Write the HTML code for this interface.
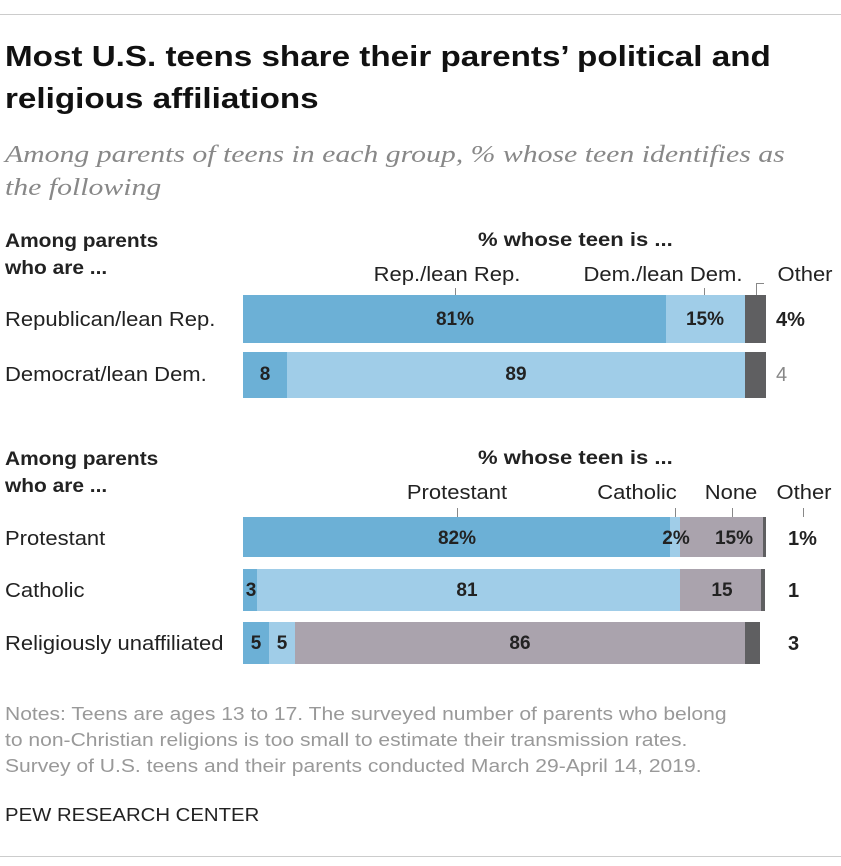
<!DOCTYPE html>
<html><head><meta charset="utf-8"><style>
body{margin:0;background:#fff;width:841px;height:866px;position:relative;font-family:"Liberation Sans",sans-serif;overflow:hidden}
.a{position:absolute;white-space:nowrap;transform-origin:0 0}
.r{position:absolute;height:1px;background:#ccc;left:0;width:841px}
.b{position:absolute}
.t{position:absolute;font-size:19px;font-weight:bold;color:#222;transform:translateX(-50%)}
.lab{font-size:20px;color:#222;transform:scaleX(1.1)}
.lg{position:absolute;white-space:nowrap;font-size:20px;color:#222;transform:translateX(-50%) scaleX(1.1)}
.tick{position:absolute;width:1px;background:#888}
.hd{font-size:19px;font-weight:bold;color:#222;line-height:27px;transform:scaleX(1.1)}
.pc{font-size:19px;font-weight:bold;color:#222;transform:scaleX(1.16)}
</style></head><body>
<div class="r" style="top:14px"></div>
<div class="r" style="top:856px"></div>
<div class="a" style="left:5px;top:36px;font-size:29px;font-weight:bold;color:#111;line-height:42px;transform:scaleX(1.145)">Most U.S. teens share their parents’ political and<br>religious affiliations</div>
<div class="a" style="left:5px;top:139px;font-family:'Liberation Serif',serif;font-style:italic;font-size:24px;color:#888;line-height:33px;transform:scaleX(1.24)">Among parents of teens in each group, % whose teen identifies as<br>the following</div>

<div class="a hd" style="left:5px;top:228px">Among parents<br>who are ...</div>
<div class="a pc" style="left:478px;top:230px">% whose teen is ...</div>
<div class="lg" style="left:447px;top:264px">Rep./lean Rep.</div>
<div class="lg" style="left:663px;top:264px">Dem./lean Dem.</div>
<div class="lg" style="left:805px;top:264px">Other</div>
<div class="tick" style="left:455px;top:288px;height:7px"></div>
<div class="tick" style="left:704px;top:288px;height:7px"></div>
<div class="tick" style="left:756px;top:283px;height:12px"></div>
<div class="tick" style="left:756px;top:283px;height:1px;width:8px"></div>

<div class="a lab" style="left:5px;top:309px">Republican/lean Rep.</div>
<div class="b" style="left:243px;top:295px;width:423px;height:48px;background:#6cb0d6"></div>
<div class="b" style="left:666px;top:295px;width:79px;height:48px;background:#a0cde8"></div>
<div class="b" style="left:745px;top:295px;width:21px;height:48px;background:#5f5f61"></div>
<div class="t" style="left:455px;top:309px">81%</div>
<div class="t" style="left:705px;top:309px">15%</div>
<div class="a" style="left:776px;top:309px;font-size:20px;font-weight:bold;color:#222">4%</div>

<div class="a lab" style="left:5px;top:364px">Democrat/lean Dem.</div>
<div class="b" style="left:243px;top:352px;width:44px;height:46px;background:#6cb0d6"></div>
<div class="b" style="left:287px;top:352px;width:458px;height:46px;background:#a0cde8"></div>
<div class="b" style="left:745px;top:352px;width:21px;height:46px;background:#5f5f61"></div>
<div class="t" style="left:265px;top:364px">8</div>
<div class="t" style="left:516px;top:364px">89</div>
<div class="a" style="left:776px;top:364px;font-size:20px;color:#888">4</div>

<div class="a hd" style="left:5px;top:446px">Among parents<br>who are ...</div>
<div class="a pc" style="left:478px;top:448px">% whose teen is ...</div>
<div class="lg" style="left:457px;top:482px">Protestant</div>
<div class="lg" style="left:637px;top:482px">Catholic</div>
<div class="lg" style="left:731px;top:482px">None</div>
<div class="lg" style="left:804px;top:482px">Other</div>
<div class="tick" style="left:457px;top:508px;height:9px"></div>
<div class="tick" style="left:675px;top:508px;height:9px"></div>
<div class="tick" style="left:732px;top:508px;height:9px"></div>
<div class="tick" style="left:803px;top:508px;height:9px"></div>

<div class="a lab" style="left:5px;top:528px">Protestant</div>
<div class="b" style="left:243px;top:517px;width:427px;height:40px;background:#6cb0d6"></div>
<div class="b" style="left:670px;top:517px;width:10px;height:40px;background:#a0cde8"></div>
<div class="b" style="left:680px;top:517px;width:83px;height:40px;background:#aaa3ad"></div>
<div class="b" style="left:763px;top:517px;width:3px;height:40px;background:#5f5f61"></div>
<div class="t" style="left:457px;top:528px">82%</div>
<div class="t" style="left:676px;top:528px">2%</div>
<div class="t" style="left:734px;top:528px">15%</div>
<div class="a" style="left:788px;top:528px;font-size:20px;font-weight:bold;color:#222">1%</div>

<div class="a lab" style="left:5px;top:580px">Catholic</div>
<div class="b" style="left:243px;top:569px;width:14px;height:42px;background:#6cb0d6"></div>
<div class="b" style="left:257px;top:569px;width:423px;height:42px;background:#a0cde8"></div>
<div class="b" style="left:680px;top:569px;width:81px;height:42px;background:#aaa3ad"></div>
<div class="b" style="left:761px;top:569px;width:4px;height:42px;background:#5f5f61"></div>
<div class="t" style="left:251px;top:580px">3</div>
<div class="t" style="left:467px;top:580px">81</div>
<div class="t" style="left:722px;top:580px">15</div>
<div class="a" style="left:788px;top:580px;font-size:20px;font-weight:bold;color:#222">1</div>

<div class="a lab" style="left:5px;top:633px">Religiously unaffiliated</div>
<div class="b" style="left:243px;top:622px;width:26px;height:42px;background:#6cb0d6"></div>
<div class="b" style="left:269px;top:622px;width:26px;height:42px;background:#a0cde8"></div>
<div class="b" style="left:295px;top:622px;width:450px;height:42px;background:#aaa3ad"></div>
<div class="b" style="left:745px;top:622px;width:15px;height:42px;background:#5f5f61"></div>
<div class="t" style="left:256px;top:633px">5</div>
<div class="t" style="left:282px;top:633px">5</div>
<div class="t" style="left:520px;top:633px">86</div>
<div class="a" style="left:788px;top:633px;font-size:20px;font-weight:bold;color:#222">3</div>

<div class="a" style="left:5px;top:701px;font-size:18px;color:#999;line-height:26px;transform:scaleX(1.17)">Notes: Teens are ages 13 to 17. The surveyed number of parents who belong<br>to non-Christian religions is too small to estimate their transmission rates.<br>Survey of U.S. teens and their parents conducted March 29-April 14, 2019.</div>
<div class="a" style="left:5px;top:805px;font-size:18px;color:#222;transform:scaleX(1.13)">PEW RESEARCH CENTER</div>
</body></html>
